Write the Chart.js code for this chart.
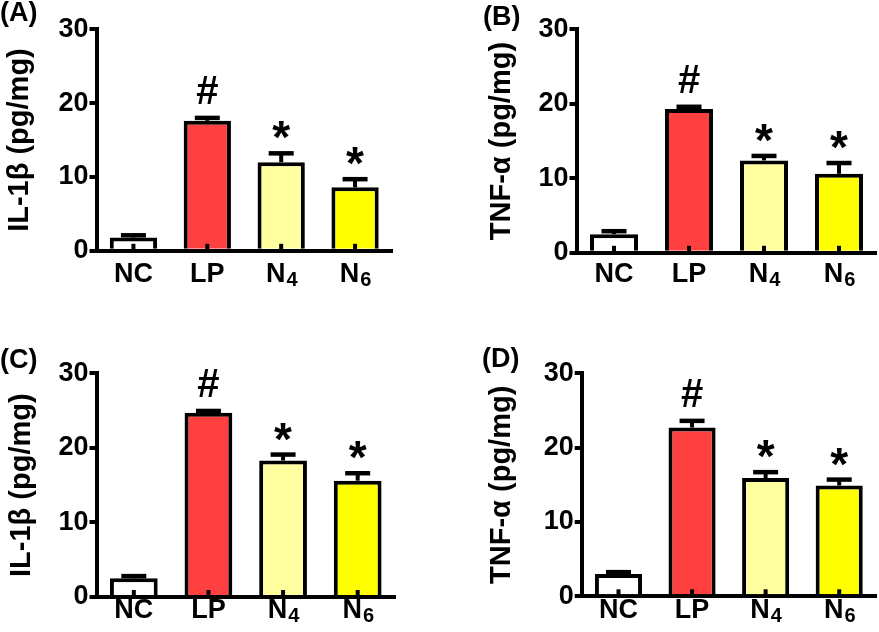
<!DOCTYPE html>
<html>
<head>
<meta charset="utf-8">
<script src="https://cdn.jsdelivr.net/npm/chart.js@4.4.0/dist/chart.umd.min.js"></script>
<style>
  body { margin: 0; background: #fff; width: 879px; height: 632px; position: relative; overflow: hidden; }
  canvas { position: absolute; }
</style>
</head>
<body>
<canvas id="chartA" width="440" height="316" style="left:0;top:0"></canvas>
<canvas id="chartB" width="439" height="316" style="left:440px;top:0"></canvas>
<canvas id="chartC" width="440" height="316" style="left:0;top:316px"></canvas>
<canvas id="chartD" width="439" height="316" style="left:440px;top:316px"></canvas>
<script>
// groups and y ticks
const categories = ["NC", "LP", "N₄", "N₆"];
const yTicks = [0, 10, 20, 30];
const markers = ["", "#", "*", "*"];
const barColors = ["#FFFFFF", "#FF4040", "#FFFFA0", "#FFFF00"];

// (A) IL-1β
const il1bA = [1.8, 17.6, 12.0, 8.6];
const il1bAErr = [0.3, 0.4, 1.2, 1.1];
// (B) TNF-α
const tnfB = [2.5, 19.3, 12.4, 10.6];
const tnfBErr = [0.4, 0.3, 0.6, 1.45];
// (C) IL-1β
const il1bC = [2.5, 24.7, 18.3, 15.6];
const il1bCErr = [0.3, 0.25, 0.8, 1.0];
// (D) TNF-α
const tnfD = [3.0, 22.7, 15.9, 14.9];
const tnfDErr = [0.25, 0.9, 0.8, 0.8];

const FONT = "'Liberation Sans', Arial, Helvetica, sans-serif";
const SUBS = "₀₁₂₃₄₅₆₇₈₉";

// error bars, significance marks, inward x ticks, x labels with subscripts, panel letter
const extrasPlugin = {
  id: "extras",
  afterDatasetsDraw(chart, args, opts) {
    const ctx = chart.ctx;
    const yScale = chart.scales.y;
    const xScale = chart.scales.x;
    const area = chart.chartArea;
    const meta = chart.getDatasetMeta(0);
    const values = chart.data.datasets[0].data;
    ctx.save();
    ctx.strokeStyle = "#000";
    ctx.fillStyle = "#000";
    ctx.lineWidth = 4;
    meta.data.forEach((bar, i) => {
      const top = yScale.getPixelForValue(values[i]);
      const capY = yScale.getPixelForValue(values[i] + opts.errors[i]);
      ctx.lineWidth = 4;
      ctx.beginPath();
      ctx.moveTo(bar.x, top);
      ctx.lineTo(bar.x, capY);
      ctx.stroke();
      ctx.lineWidth = 4.5;
      ctx.beginPath();
      ctx.moveTo(bar.x - 12.5, capY);
      ctx.lineTo(bar.x + 12.5, capY);
      ctx.stroke();

      // little tick pointing up into the bar
      ctx.lineWidth = 4;
      ctx.beginPath();
      ctx.moveTo(xScale.getPixelForTick(i), area.bottom);
      ctx.lineTo(xScale.getPixelForTick(i), area.bottom - 7);
      ctx.stroke();

      const mark = markers[i];
      if (mark) {
        ctx.font = "bold " + (mark === "*" ? 46 : 40) + "px " + FONT;
        ctx.textAlign = "center";
        ctx.textBaseline = "alphabetic";
        const m = ctx.measureText(mark);
        const inkBottom = capY - 14;
        ctx.fillText(mark, bar.x, inkBottom - m.actualBoundingBoxDescent);
      }
    });

    // category labels
    const baseY = area.bottom + opts.labelOffset;
    categories.forEach((label, i) => {
      let main = "", sub = "";
      for (const ch of label) {
        const k = SUBS.indexOf(ch);
        if (k >= 0) sub += String(k); else main += ch;
      }
      ctx.textAlign = "left";
      ctx.textBaseline = "alphabetic";
      ctx.font = "bold 27px " + FONT;
      const wMain = ctx.measureText(main).width;
      ctx.font = "bold 20px " + FONT;
      const wSub = sub ? ctx.measureText(sub).width : 0;
      let x0 = xScale.getPixelForTick(i) - (wMain + wSub) / 2;
      ctx.font = "bold 27px " + FONT;
      ctx.fillText(main, x0, baseY);
      if (sub) {
        ctx.font = "bold 20px " + FONT;
        ctx.fillText(sub, x0 + wMain + 1, baseY + 4);
      }
    });

    // panel letter
    ctx.font = "bold 27px " + FONT;
    ctx.textAlign = "left";
    ctx.fillText(opts.letter, opts.letterX, opts.letterY);
    ctx.restore();
  }
};

function makeChart(id, letter, yTitle, values, errors, box) {
  const canvas = document.getElementById(id);
  const W = canvas.width, H = canvas.height;
  return new Chart(canvas.getContext("2d"), {
    type: "bar",
    data: {
      labels: categories,
      datasets: [{
        data: values,
        backgroundColor: barColors,
        borderColor: "#000",
        borderWidth: 4,
        categoryPercentage: 1,
        barPercentage: 0.64
      }]
    },
    options: {
      responsive: false,
      animation: false,
      events: [],
      layout: {
        padding: { left: box.lpad, top: box.top, right: W - box.right, bottom: 0 }
      },
      plugins: {
        legend: { display: false },
        tooltip: { enabled: false },
        extras: {
          errors: errors,
          letter: letter,
          letterX: box.letterX,
          letterY: box.letterY,
          labelOffset: box.labelOffset
        }
      },
      scales: {
        x: {
          offset: true,
          grid: { display: false },
          border: { display: true, color: "#000", width: 4 },
          ticks: { display: false },
          afterFit: (s) => { s.height = H - box.bottom; }
        },
        y: {
          min: 0,
          max: 30,
          afterBuildTicks: (s) => { s.ticks = yTicks.map(v => ({ value: v })); },
          grid: { drawOnChartArea: false, drawTicks: true, tickLength: 7, lineWidth: 4, color: "#000" },
          border: { display: true, color: "#000", width: 4 },
          ticks: { color: "#000", padding: 1, font: { family: FONT, size: 27, weight: "bold" } },
          title: {
            display: true,
            text: yTitle,
            color: "#000",
            padding: { top: 3, bottom: 0 },
            font: { family: FONT, size: 29, weight: "bold" }
          },
          afterFit: (s) => { s.width = box.left - box.lpad; }
        }
      }
    },
    plugins: [extrasPlugin]
  });
}

window.onload = function () {
  makeChart("chartA", "(A)", "IL-1β (pg/mg)", il1bA, il1bAErr,
    { left: 96.5, top: 29.3, right: 392, bottom: 250.8, lpad: 0, labelOffset: 31, letterX: 0, letterY: 20.5 });
  makeChart("chartB", "(B)", "TNF-α (pg/mg)", tnfB, tnfBErr,
    { left: 136.5, top: 29.3, right: 436.5, bottom: 252.8, lpad: 42, labelOffset: 29, letterX: 43, letterY: 25 });
  makeChart("chartC", "(C)", "IL-1β (pg/mg)", il1bC, il1bCErr,
    { left: 96.5, top: 57.3, right: 395, bottom: 281, lpad: 2, labelOffset: 21, letterX: 0, letterY: 52.3 });
  makeChart("chartD", "(D)", "TNF-α (pg/mg)", tnfD, tnfDErr,
    { left: 141.7, top: 57.3, right: 436, bottom: 280.3, lpad: 42, labelOffset: 22, letterX: 42, letterY: 51.3 });
};
</script>
</body>
</html>
